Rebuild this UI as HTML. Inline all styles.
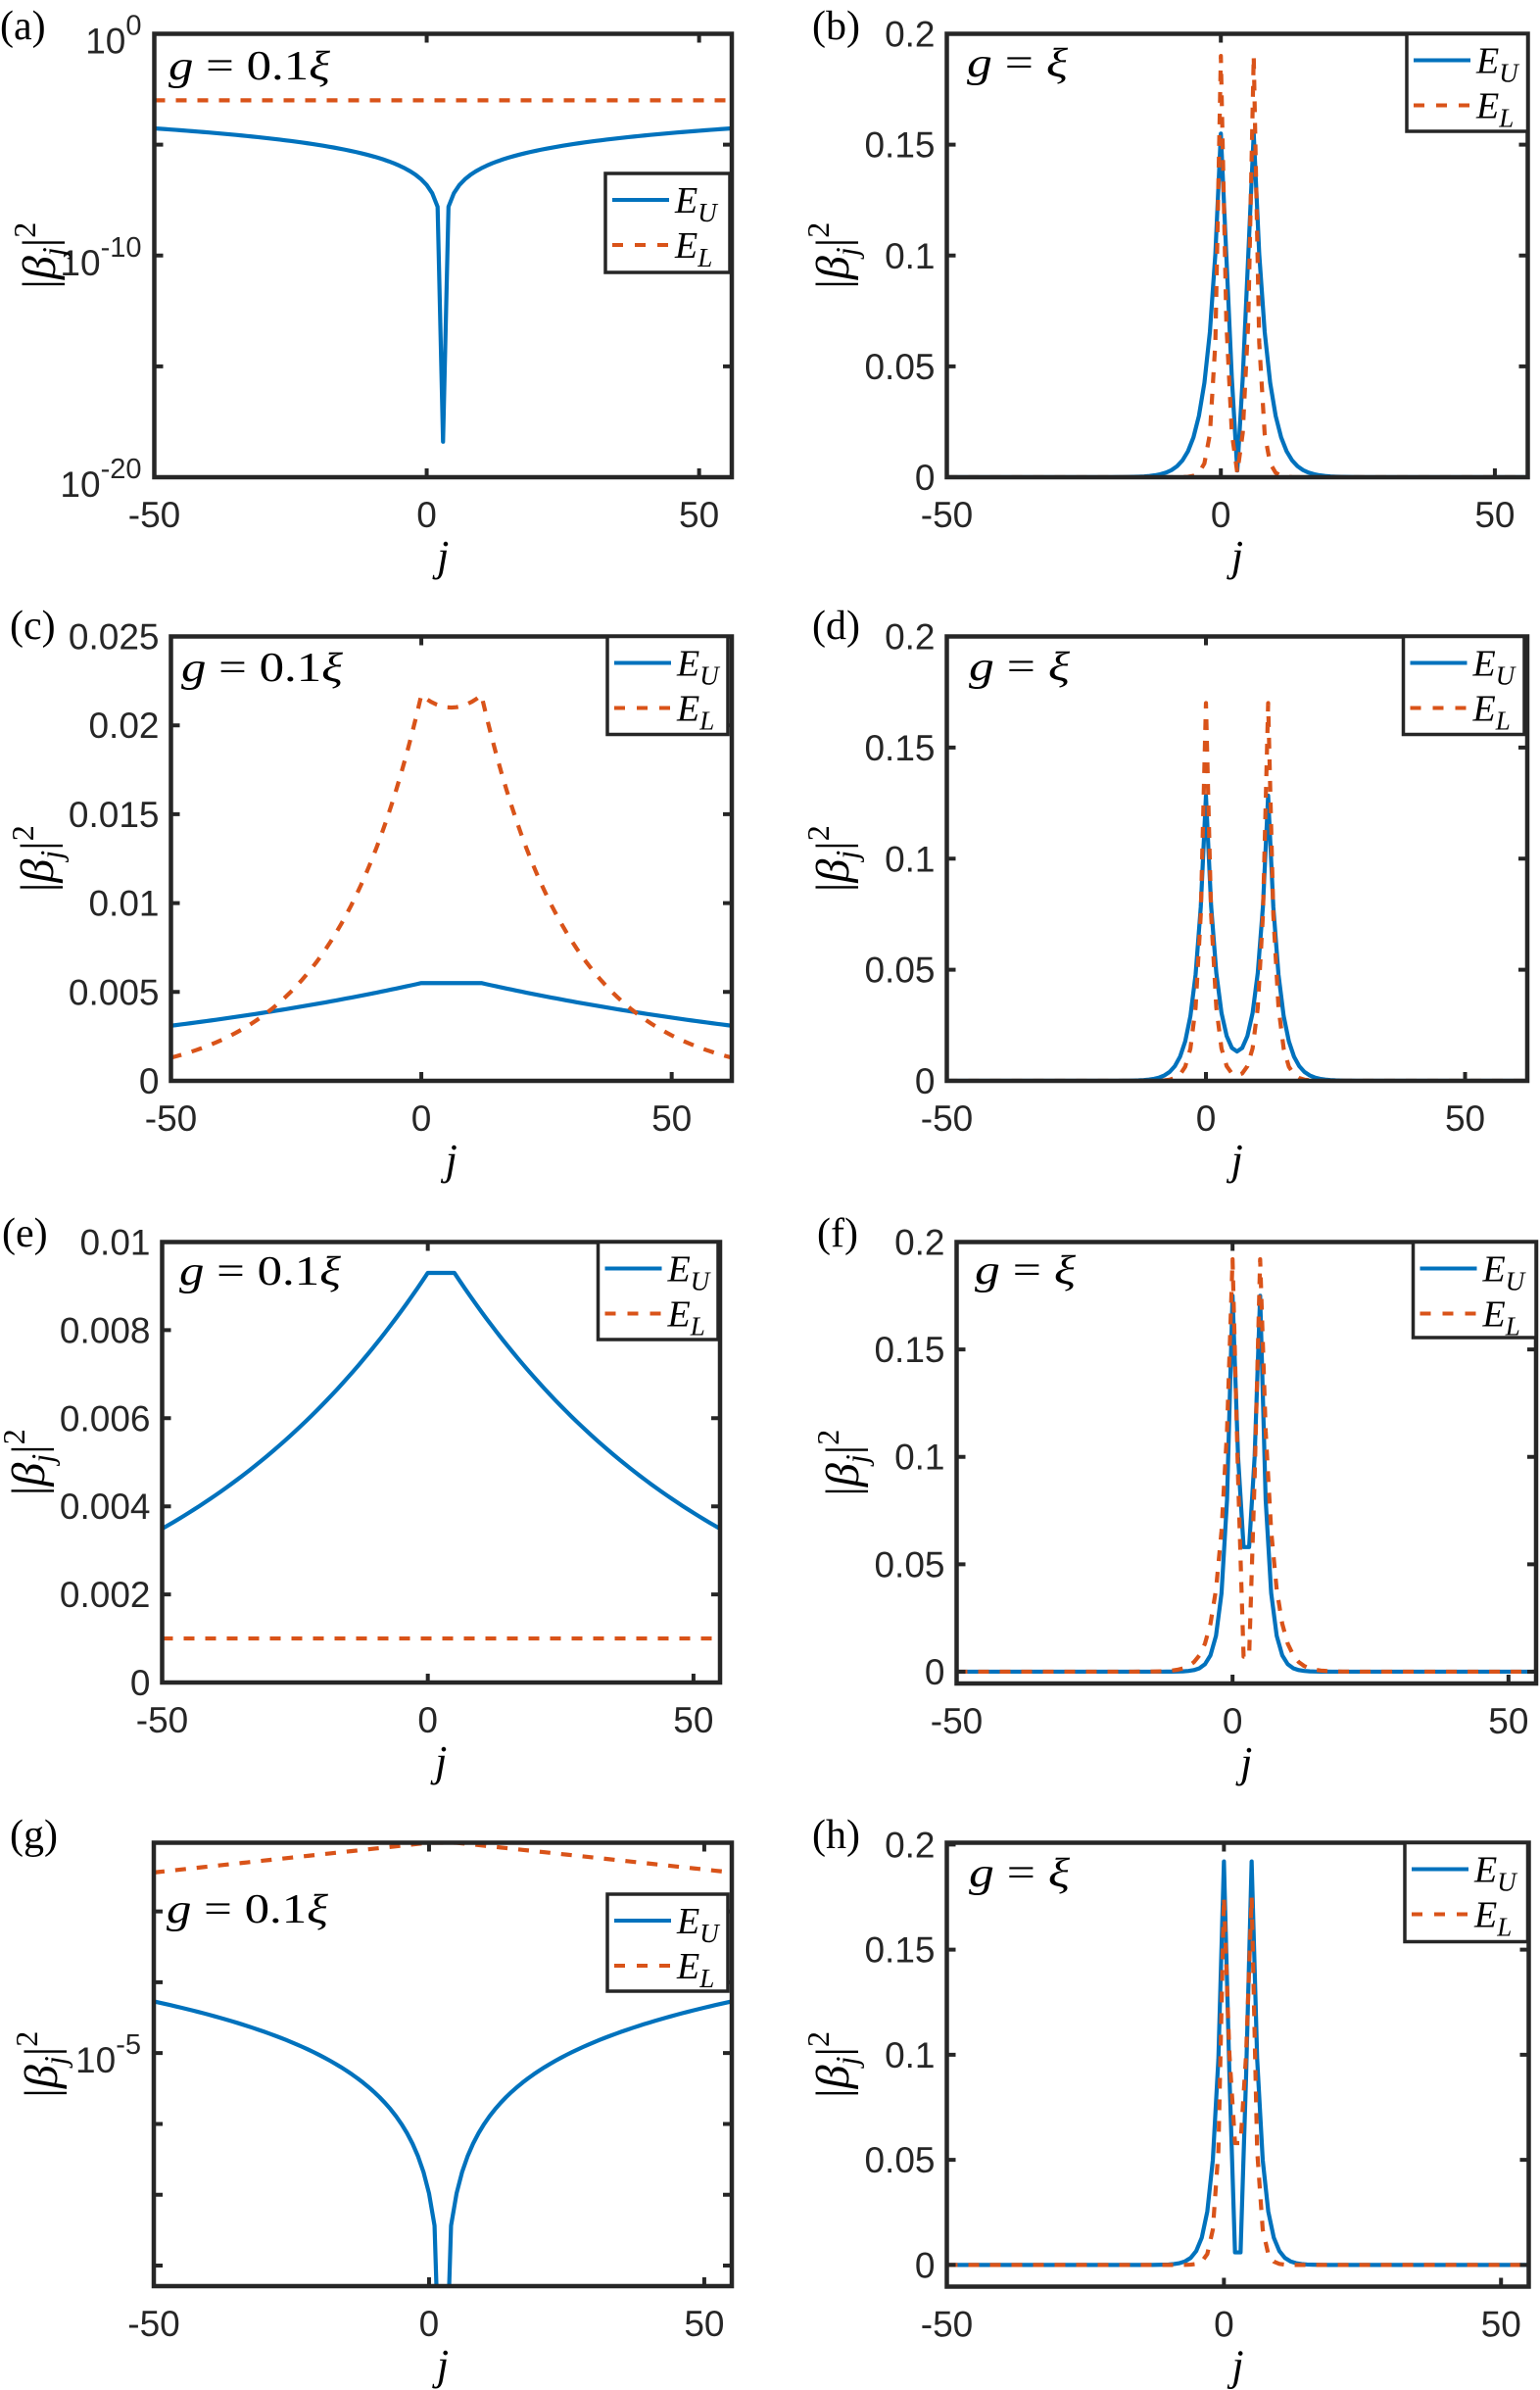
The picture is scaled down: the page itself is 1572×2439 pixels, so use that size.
<!DOCTYPE html>
<html><head><meta charset="utf-8">
<style>
html,body{margin:0;padding:0;background:#fff;}
svg{display:block;}
.tk{font-family:"Liberation Sans",Arial,sans-serif;font-size:37px;fill:#262626;}
.sr{font-family:"Liberation Serif","DejaVu Serif",serif;fill:#000;}
</style></head>
<body>
<svg id="s" xmlns="http://www.w3.org/2000/svg" width="1572" height="2439" viewBox="0 0 1572 2439"></svg>
<script>
const S=document.getElementById('s');
const BLUE='#0072BD',ORG='#D95319',AX='#262626';
let out='';
let cid=0;
function range(a,b){const r=[];for(let j=a;j<=b;j++)r.push(j);return r;}
function twoPeak(j,p2,peak,r,inner){
 if(j<=0)return peak*Math.pow(r,-j);
 if(j>=p2)return peak*Math.pow(r,j-p2);
 return inner[j];}
function panel(P){
 const {L,R,T,B,xmin,xmax,ymin,ymax}=P;
 const X=v=>L+(v-xmin)/(xmax-xmin)*(R-L);
 const Y=v=>B-(v-ymin)/(ymax-ymin)*(B-T);
 cid++;
 out+=`<clipPath id="c${cid}"><rect x="${L}" y="${T}" width="${R-L}" height="${B-T}"/></clipPath>`;
 const js=range(xmin,Math.floor(xmax));
 const path=f=>js.map((j,i)=>(i?'L':'M')+X(j).toFixed(2)+' '+Y(f(j)).toFixed(2)).join(' ');
 out+=`<g clip-path="url(#c${cid})" fill="none" stroke-width="4.2" stroke-linejoin="round">`;
 out+=`<path d="${path(P.U)}" stroke="${BLUE}"/>`;
 out+=`<path d="${path(P.Lf)}" stroke="${ORG}" stroke-dasharray="11 11"/>`;
 out+=`</g>`;
 let tk='';
 [-50,0,50].forEach(v=>{const x=X(v);
  tk+=`M${x} ${B}v-9M${x} ${T}v9`;
  out+=`<text class="tk" x="${x}" y="${B+51}" text-anchor="middle">${v}</text>`;});
 P.yt.forEach(t=>{const y=Y(t[0]);
  tk+=`M${L} ${y}h9M${R} ${y}h-9`;
  if(t[1]!==null){
   if(P.log){out+=`<text class="tk" x="${L-13}" y="${y+20}" text-anchor="end">10<tspan dy="-19" font-size="29">${t[1]}</tspan></text>`;}
   else out+=`<text class="tk" x="${L-12}" y="${y+13}" text-anchor="end">${t[1]}</text>`;}
 });
 out+=`<path d="${tk}" stroke="${AX}" stroke-width="4" fill="none"/>`;
 out+=`<rect x="${L}" y="${T}" width="${R-L}" height="${B-T}" fill="none" stroke="${AX}" stroke-width="4.5"/>`;
 const lg=P.lg;
 out+=`<rect x="${lg[0]}" y="${lg[1]}" width="${lg[2]-lg[0]}" height="${lg[3]-lg[1]}" fill="#fff" stroke="${AX}" stroke-width="3.5"/>`;
 const r1=lg[1]+27,r2=lg[1]+73;
 out+=`<path d="M${lg[0]+7} ${r1}H${lg[0]+65}" stroke="${BLUE}" stroke-width="4"/>`;
 out+=`<path d="M${lg[0]+7} ${r2}H${lg[0]+65}" stroke="${ORG}" stroke-width="4" stroke-dasharray="11 12"/>`;
 out+=`<text class="sr" x="${lg[0]+71}" y="${r1+13}" font-size="38" font-style="italic">E<tspan font-size="27" dy="9">U</tspan></text>`;
 out+=`<text class="sr" x="${lg[0]+71}" y="${r2+13}" font-size="38" font-style="italic">E<tspan font-size="27" dy="9">L</tspan></text>`;
 if(P.g01) out+=`<text class="sr" x="${P.gx}" y="${P.gy}" font-size="42" textLength="165" lengthAdjust="spacingAndGlyphs"><tspan font-style="italic">g</tspan> = 0.1<tspan font-style="italic">ξ</tspan></text>`;
 else out+=`<text class="sr" x="${P.gx}" y="${P.gy}" font-size="42" textLength="103" lengthAdjust="spacingAndGlyphs"><tspan font-style="italic">g</tspan> = <tspan font-style="italic">ξ</tspan></text>`;
 out+=`<text class="sr" x="${(L+R)/2}" y="${B+95}" font-size="44" font-style="italic" text-anchor="middle">j</text>`;
 const yc=(T+B)/2, yx=P.ylx;
 out+=`<text class="sr" transform="translate(${yx},${yc}) rotate(-90)" font-size="48" text-anchor="middle">|<tspan font-style="italic">β</tspan><tspan font-style="italic" font-size="32" dy="9">j</tspan><tspan dy="-9">|</tspan><tspan font-size="32" dy="-20">2</tspan></text>`;
 out+=`<text class="sr" x="${P.lab[0]}" y="${P.lab[1]}" font-size="42">${P.lab[2]}</text>`;
}
const lin=(a,b,s,lab)=>{const r=[];for(let v=a;v<=b+1e-9;v+=s)r.push([v,lab?lab(v):null]);return r;};
const f2=v=>+v.toFixed(4)+'';
panel({L:157.5,R:747,T:34.5,B:487,xmin:-50,xmax:56,ymin:-20,ymax:0,log:true,
 yt:[[0,'0'],[-5,null],[-10,'-10'],[-15,null],[-20,'-20']],
 U:j=>{const d=Math.abs(j-3);return d===0?-18.4:-7.8+2.05*Math.log10(d);},
 Lf:j=>-3,
 lg:[618,177,745,278],g01:true,gx:172,gy:81,ylx:56,lab:[0,40,'(a)']});
panel({L:966.5,R:1559.5,T:34.5,B:487,xmin:-50,xmax:56,ymin:0,ymax:0.2,
 yt:lin(0,0.2,0.05,f2),
 U:j=>twoPeak(j,6,0.155,0.65,[0.155,0.1,0.045,0.003,0.045,0.1,0.155]),
 Lf:j=>twoPeak(j,6,0.19,0.32,[0.19,0.07,0.02,0.002,0.02,0.07,0.19]),
 lg:[1436,34.5,1559.5,134],g01:false,gx:987,gy:78,ylx:866,lab:[829,40,'(b)']});
panel({L:174.5,R:747,T:649.5,B:1103,xmin:-50,xmax:62,ymin:0,ymax:0.025,
 yt:lin(0,0.025,0.005,f2),
 U:j=>j<0?0.0055*Math.pow(0.9886,-j):(j>12?0.0055*Math.pow(0.9886,j-12):0.0055),
 Lf:j=>j<0?0.0217*Math.pow(0.9453,-j):(j>12?0.0217*Math.pow(0.9453,j-12):0.021+0.0007*Math.pow((j-6)/6,2)),
 lg:[620,649.5,743,749.5],g01:true,gx:185,gy:695,ylx:54,lab:[10,652,'(c)']});
panel({L:966.5,R:1559,T:649.5,B:1103,xmin:-50,xmax:62,ymin:0,ymax:0.2,
 yt:lin(0,0.2,0.05,f2),
 U:j=>0.128*(Math.pow(0.61,Math.abs(j))+Math.pow(0.61,Math.abs(j-12))),
 Lf:j=>0.17*(Math.pow(0.44,Math.abs(j))+Math.pow(0.44,Math.abs(j-12))),
 lg:[1432.5,649.5,1556,749.5],g01:false,gx:989,gy:694,ylx:866,lab:[829,652,'(d)']});
panel({L:165.5,R:735,T:1267.5,B:1717,xmin:-50,xmax:55,ymin:0,ymax:0.01,
 yt:lin(0,0.01,0.002,f2),
 U:j=>j<0?0.0093*Math.pow(0.9806,-j):(j>5?0.0093*Math.pow(0.9806,j-5):0.0093),
 Lf:j=>0.001,
 lg:[610.5,1267.5,733,1367],g01:true,gx:183,gy:1311,ylx:45,lab:[2,1272,'(e)']});
panel({L:976.5,R:1568,T:1267.5,B:1718,xmin:-50,xmax:55,ymin:-0.0055,ymax:0.2,
 yt:lin(0,0.2,0.05,f2),
 U:j=>twoPeak(j,5,0.175,0.457,[0.175,0.1,0.058,0.058,0.1,0.175]),
 Lf:j=>twoPeak(j,5,0.192,0.584,[0.192,0.09,0.007,0.007,0.09,0.192]),
 lg:[1442.5,1267.5,1568,1365],g01:false,gx:995,gy:1310,ylx:876,lab:[834,1272,'(f)']});
panel({L:157,R:747,T:1880.5,B:2333,xmin:-50,xmax:55,ymin:-8.29,ymax:-2.03,log:true,
 yt:[[-3,null],[-4,null],[-5,'-5'],[-6,null],[-7,null],[-8,null]],
 U:j=>{const d=Math.abs(j-2.5);return -4.27-2.05*Math.log10(52.5/d)-(d<1?1.5:0);},
 Lf:j=>j<0?-2.03-0.42*(-j)/50:(j>5?-2.03-0.42*(j-5)/50:-2.03),
 lg:[620,1933,743,2032],g01:true,gx:170,gy:1962,ylx:58,lab:[10,1886,'(g)']});
panel({L:966.5,R:1560.5,T:1880.5,B:2333.5,xmin:-50,xmax:55,ymin:-0.0103,ymax:0.2009,
 yt:lin(0,0.2,0.05,f2),
 U:j=>twoPeak(j,5,0.192,0.51,[0.192,0.09,0.006,0.006,0.09,0.192]),
 Lf:j=>twoPeak(j,5,0.175,0.31,[0.175,0.1,0.058,0.058,0.1,0.175]),
 lg:[1434,1880.5,1559.5,1981.5],g01:false,gx:989,gy:1925,ylx:866,lab:[829,1886,'(h)']});
S.innerHTML=out;
</script>
</body></html>
